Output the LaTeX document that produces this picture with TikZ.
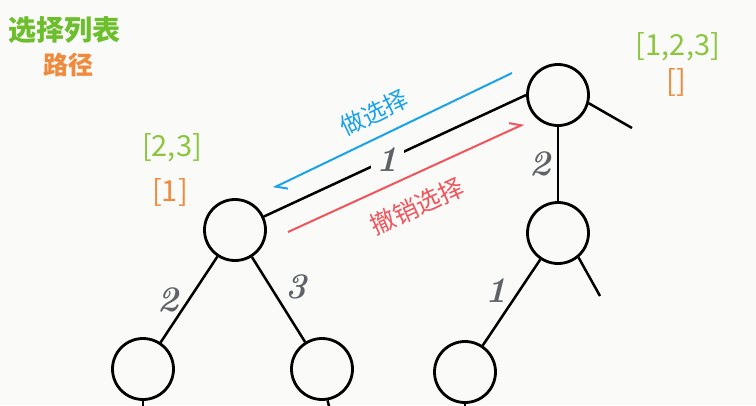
\documentclass[tikz,border=0pt]{standalone}
\usepackage{fontspec}
\newfontfamily\cjk{Noto Sans CJK SC}
\usetikzlibrary{arrows.meta}
\definecolor{bg}{HTML}{FAFAF8}
\definecolor{lgreen}{HTML}{6DBE2C}
\definecolor{bgreen}{HTML}{8CC63F}
\definecolor{lorange}{HTML}{F08A3C}
\definecolor{lblue}{HTML}{1AA3E8}
\definecolor{lred}{HTML}{F2545B}
\definecolor{lgray}{HTML}{5E6266}
\tikzset{
  treenode/.style={circle, draw=black, line width=2.8pt, minimum size=61pt, inner sep=0pt},
  treeedge/.style={draw=black, line width=2.5pt},
  edgelabel/.style={text=lgray, font=\fontsize{36}{38}\selectfont\bfseries\itshape, inner sep=0pt},
  listtext/.style={font=\cjk\fontsize{29}{31}\selectfont, inner sep=0pt},
  movearrow/.style={line width=2pt, -{Straight Barb[harpoon, length=10pt, width=14pt, line width=2pt]}},
  movelabel/.style={font=\cjk\fontsize{24}{26}\selectfont, inner sep=0pt}
}
\begin{document}
\begin{tikzpicture}[x=1pt,y=-1pt]
\fill[bg] (0,0) rectangle (756,405);
\useasboundingbox (0,0) rectangle (756,405);

% legend
\node[listtext, text=lgreen, font=\cjk\bfseries\fontsize{28}{30}\selectfont] (lg1) at (65,30) {选择列表};
\node[listtext, text=lorange, font=\cjk\bfseries\fontsize{25}{27}\selectfont] (lg2) at (68,65) {路径};

% tree nodes
\node[treenode] (A) at (558,95) {};
\node[treenode] (B) at (235,230) {};
\node[treenode] (C) at (558,233) {};
\node[treenode] (D) at (143,369) {};
\node[treenode] (E) at (322,369) {};
\node[treenode] (F) at (465,372) {};

% free ends
\coordinate (a1) at (632,128);
\coordinate (c1) at (600,296);
\coordinate (d1) at (143,410);
\coordinate (e1) at (330,410);
\coordinate (f1) at (465,410);

% edges
\draw[treeedge] (B.25) -- node[pos=0.47, edgelabel, fill=bg, inner sep=6pt] (l1) {1} (A.180);
\draw[treeedge] (A) -- (C);
\draw[treeedge] (A.-15) -- (a1);
\draw[treeedge] (B) -- (D);
\draw[treeedge] (B) -- (E);
\draw[treeedge] (C) -- (F);
\draw[treeedge] (C.-50) -- (c1);
\draw[treeedge] (D.south) -- (d1);
\draw[treeedge] (E.-80) -- (e1);
\draw[treeedge] (F.south) -- (f1);

% edge labels
\node[edgelabel] (l2) at (540,164) {2};
\node[edgelabel] (l3) at (168,300) {2};
\node[edgelabel] (l4) at (296,287) {3};
\node[edgelabel] (l5) at (496,291) {1};

% state labels
\node[listtext, text=bgreen] (s1) at (678,47) {[1,2,3]};
\node[listtext, text=lorange] (s2) at (676,82) {[]};
\node[listtext, text=bgreen] (s3) at (172,148) {[2,3]};
\node[listtext, text=lorange] (s4) at (170,192) {[1]};

% choose / undo arrows
\coordinate (bs) at (512,73);
\coordinate (be) at (273,188);
\draw[movearrow, lblue] (bs) -- (be);
\node[movelabel, text=lblue, rotate=25.7] (bl) at (374,113) {做选择};

\coordinate (rs) at (288,232);
\coordinate (re) at (524,124);
\draw[movearrow, lred] (rs) -- (re);
\node[movelabel, text=lred, rotate=24.6, font=\cjk\fontsize{25}{27}\selectfont] (rl) at (417,206) {撤销选择};
\end{tikzpicture}
\end{document}
